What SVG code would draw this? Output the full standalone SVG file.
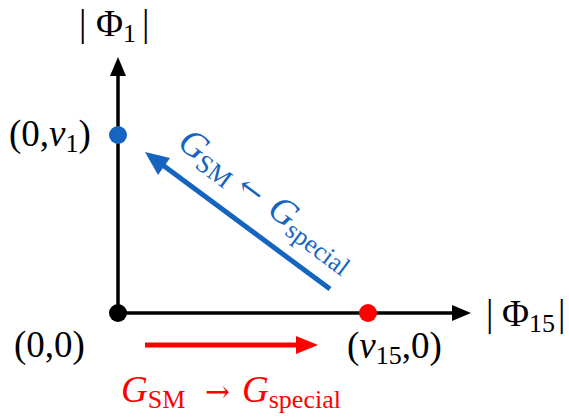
<svg xmlns="http://www.w3.org/2000/svg" width="569" height="417" viewBox="0 0 569 417">
<style>
text{font-family:"Liberation Serif","Times New Roman",serif;}
.lbl{font-size:37px;fill:#000;}
.sub{font-size:26px;}
.it{font-style:italic;}
.ar{font-family:"DejaVu Serif",serif;font-size:30px;}
</style>
<rect width="569" height="417" fill="#fff"/>
<g id="connectors">
<g id="y-axis"><line x1="118" y1="313" x2="118" y2="72" stroke="#000" stroke-width="3.5"/><polygon points="118,57 110,76 126,76" fill="#000"/></g>
<g id="x-axis"><line x1="118" y1="313" x2="456" y2="313" stroke="#000" stroke-width="3.5"/><polygon points="471,313 452,305 452,321" fill="#000"/></g>
<g id="red-arrow"><line x1="145" y1="345" x2="300" y2="345" stroke="#ff0000" stroke-width="5"/><polygon points="318,345 296,336 296,354" fill="#ff0000"/></g>
<g id="blue-arrow"><line x1="330" y1="289" x2="160" y2="163" stroke="#1565c0" stroke-width="5"/><polygon points="145,152 170,158 158,175" fill="#1565c0"/></g>
</g>
<g id="origin"><circle cx="118" cy="313" r="9" fill="#000"/><text class="lbl" x="14" y="357">(0,0)</text></g>
<g id="v1-point"><circle cx="118" cy="135" r="9" fill="#1565c0"/><text class="lbl" x="9" y="146">(0,<tspan class="it">v</tspan><tspan class="sub" dy="6">1</tspan><tspan dy="-6">)</tspan></text></g>
<g id="v15-point"><circle cx="368" cy="313" r="9" fill="#ff0000"/><text class="lbl" x="347" y="358">(<tspan class="it">v</tspan><tspan class="sub" dy="6">15</tspan><tspan dy="-6">,0)</tspan></text></g>
<g id="phi1-label"><text class="lbl" x="79" y="36">|<tspan x="96">Φ</tspan><tspan class="sub" dy="6">1</tspan><tspan dy="-6" x="142">|</tspan></text></g>
<g id="phi15-label"><text class="lbl" x="486" y="326">|<tspan x="502">Φ</tspan><tspan class="sub" dy="6">15</tspan><tspan dy="-6" x="558">|</tspan></text></g>
<g id="red-label"><text class="lbl" x="121" y="402" style="fill:#ff0000"><tspan class="it">G</tspan><tspan class="sub" dy="6">SM</tspan><tspan class="ar" dy="-6" x="205">→</tspan><tspan class="it" x="242">G</tspan><tspan class="sub" dy="6">special</tspan></text></g>
<g id="blue-label"><text class="lbl" transform="translate(176,146) rotate(36.7)" style="fill:#1565c0"><tspan class="it">G</tspan><tspan class="sub" dy="6">SM</tspan><tspan class="ar" dy="-6" x="74" font-size="24">←</tspan><tspan class="it" x="112">G</tspan><tspan class="sub" dy="6">special</tspan></text></g>
</svg>
